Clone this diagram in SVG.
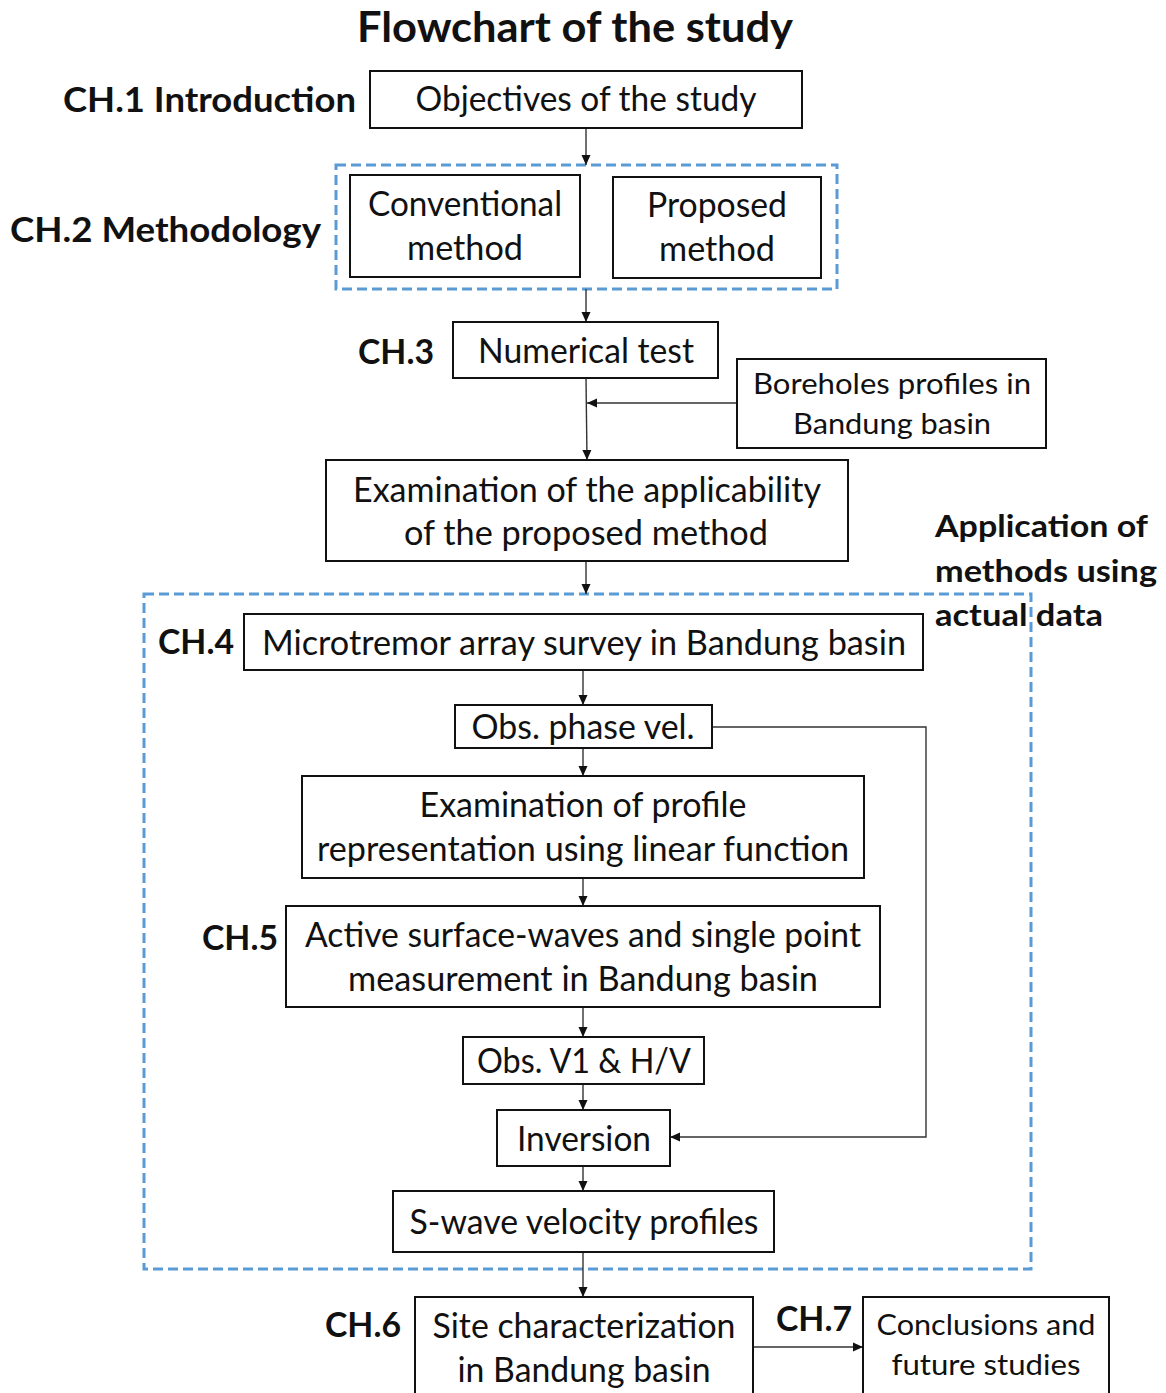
<svg xmlns="http://www.w3.org/2000/svg" width="1166" height="1393" viewBox="0 0 1166 1393">
<defs>
<marker id="ah" markerUnits="userSpaceOnUse" markerWidth="10" markerHeight="10" viewBox="0 0 10 10" refX="10" refY="5" orient="auto">
<path d="M0,0.5 L10,5 L0,9.5 Z" fill="#111"/>
</marker>
<style>
.box{fill:#fff;stroke:#111;stroke-width:2}
.dash{fill:none;stroke:#5B9BD5;stroke-width:3;stroke-dasharray:10 5}
.t{font-family:Lato,"Open Sans","Liberation Sans",sans-serif;font-size:34px;fill:#111;text-anchor:middle}
.s{font-size:28px}
.b{font-family:Lato,"Open Sans","Liberation Sans",sans-serif;font-weight:bold;font-size:34px;fill:#111}
.c{fill:none;stroke:#333;stroke-width:1.4}
</style>
</defs>
<rect width="1166" height="1393" fill="#fff"/>
<text class="b" x="575" y="42" text-anchor="middle" font-size="42" style="font-size:42px" textLength="436" lengthAdjust="spacingAndGlyphs">Flowchart of the study</text>

<g id="frames">
<rect class="dash" x="336" y="165" width="501" height="124"/>
<rect class="dash" x="144" y="594" width="887" height="675"/>
</g>

<g id="labels">
<text class="b" x="63" y="112" textLength="293" lengthAdjust="spacingAndGlyphs">CH.1 Introduction</text>
<text class="b" x="10" y="242" textLength="311" lengthAdjust="spacingAndGlyphs">CH.2 Methodology</text>
<text class="b" x="358" y="364" textLength="76" lengthAdjust="spacingAndGlyphs">CH.3</text>
<text class="b" x="158" y="654" textLength="76" lengthAdjust="spacingAndGlyphs">CH.4</text>
<text class="b" x="202" y="950" textLength="76" lengthAdjust="spacingAndGlyphs">CH.5</text>
<text class="b" x="325" y="1337" textLength="76" lengthAdjust="spacingAndGlyphs">CH.6</text>
<text class="b" x="776" y="1331" textLength="76" lengthAdjust="spacingAndGlyphs">CH.7</text>
<g id="app-label">
<text class="b" x="935" y="537" style="font-size:30px" textLength="213" lengthAdjust="spacingAndGlyphs">Application of</text>
<text class="b" x="935" y="582" style="font-size:30px" textLength="222" lengthAdjust="spacingAndGlyphs">methods using</text>
<text class="b" x="935" y="626" style="font-size:30px" textLength="168" lengthAdjust="spacingAndGlyphs">actual data</text>
</g>
</g>

<g id="connectors">
<line class="c" x1="586" y1="128" x2="586" y2="165" marker-end="url(#ah)"/>
<line class="c" x1="586" y1="289" x2="586" y2="322" marker-end="url(#ah)"/>
<line class="c" x1="586" y1="378" x2="587" y2="460" marker-end="url(#ah)"/>
<line class="c" x1="737" y1="403" x2="587" y2="403" marker-end="url(#ah)"/>
<line class="c" x1="586" y1="561" x2="586" y2="594" marker-end="url(#ah)"/>
<line class="c" x1="583" y1="670" x2="583" y2="705" marker-end="url(#ah)"/>
<line class="c" x1="583" y1="748" x2="583" y2="776" marker-end="url(#ah)"/>
<line class="c" x1="583" y1="878" x2="583" y2="906" marker-end="url(#ah)"/>
<line class="c" x1="583" y1="1007" x2="583" y2="1037" marker-end="url(#ah)"/>
<line class="c" x1="583" y1="1084" x2="583" y2="1110" marker-end="url(#ah)"/>
<line class="c" x1="583" y1="1166" x2="583" y2="1191" marker-end="url(#ah)"/>
<line class="c" x1="583" y1="1252" x2="583" y2="1297" marker-end="url(#ah)"/>
<polyline class="c" points="712,727 926,727 926,1137 670,1137" marker-end="url(#ah)"/>
<line class="c" x1="753" y1="1347" x2="863" y2="1347" marker-end="url(#ah)"/>
</g>

<g id="n-objectives">
<rect class="box" x="370" y="71" width="432" height="57"/>
<text class="t" x="586" y="111" textLength="341" lengthAdjust="spacingAndGlyphs">Objectives of the study</text>
</g>
<g id="n-conventional">
<rect class="box" x="350" y="175" width="230" height="102"/>
<text class="t" x="465" y="216" textLength="194" lengthAdjust="spacingAndGlyphs">Conventional</text>
<text class="t" x="465" y="260" textLength="116" lengthAdjust="spacingAndGlyphs">method</text>
</g>
<g id="n-proposed">
<rect class="box" x="613" y="177" width="208" height="101"/>
<text class="t" x="717" y="217" textLength="140" lengthAdjust="spacingAndGlyphs">Proposed</text>
<text class="t" x="717" y="261" textLength="116" lengthAdjust="spacingAndGlyphs">method</text>
</g>
<g id="n-numerical">
<rect class="box" x="453" y="322" width="265" height="56"/>
<text class="t" x="586" y="363" textLength="216" lengthAdjust="spacingAndGlyphs">Numerical test</text>
</g>
<g id="n-boreholes">
<rect class="box" x="737" y="359" width="309" height="89"/>
<text class="t s" x="892" y="394" textLength="278" lengthAdjust="spacingAndGlyphs">Boreholes profiles in</text>
<text class="t s" x="892" y="434" textLength="198" lengthAdjust="spacingAndGlyphs">Bandung basin</text>
</g>
<g id="n-examination">
<rect class="box" x="326" y="460" width="522" height="101"/>
<text class="t" x="587" y="502" textLength="468" lengthAdjust="spacingAndGlyphs">Examination of the applicability</text>
<text class="t" x="586" y="545" textLength="364" lengthAdjust="spacingAndGlyphs">of the proposed method</text>
</g>
<g id="n-microtremor">
<rect class="box" x="244" y="614" width="679" height="56"/>
<text class="t" x="584" y="655" textLength="644" lengthAdjust="spacingAndGlyphs">Microtremor array survey in Bandung basin</text>
</g>
<g id="n-obsphase">
<rect class="box" x="455" y="705" width="257" height="43"/>
<text class="t" x="583" y="739" textLength="223" lengthAdjust="spacingAndGlyphs">Obs. phase vel.</text>
</g>
<g id="n-profile">
<rect class="box" x="302" y="776" width="562" height="102"/>
<text class="t" x="583" y="817" textLength="327" lengthAdjust="spacingAndGlyphs">Examination of profile</text>
<text class="t" x="583" y="861" textLength="532" lengthAdjust="spacingAndGlyphs">representation using linear function</text>
</g>
<g id="n-active">
<rect class="box" x="286" y="906" width="594" height="101"/>
<text class="t" x="583" y="947" textLength="556" lengthAdjust="spacingAndGlyphs">Active surface-waves and single point</text>
<text class="t" x="583" y="991" textLength="470" lengthAdjust="spacingAndGlyphs">measurement in Bandung basin</text>
</g>
<g id="n-obsv1">
<rect class="box" x="463" y="1037" width="241" height="47"/>
<text class="t" x="584" y="1073" textLength="214" lengthAdjust="spacingAndGlyphs">Obs. V1 &amp; H/V</text>
</g>
<g id="n-inversion">
<rect class="box" x="497" y="1110" width="173" height="56"/>
<text class="t" x="584" y="1151" textLength="134" lengthAdjust="spacingAndGlyphs">Inversion</text>
</g>
<g id="n-swave">
<rect class="box" x="393" y="1191" width="381" height="61"/>
<text class="t" x="584" y="1234" textLength="349" lengthAdjust="spacingAndGlyphs">S-wave velocity profiles</text>
</g>
<g id="n-site">
<rect class="box" x="415" y="1297" width="338" height="110"/>
<text class="t" x="584" y="1338" textLength="303" lengthAdjust="spacingAndGlyphs">Site characterization</text>
<text class="t" x="584" y="1382" textLength="253" lengthAdjust="spacingAndGlyphs">in Bandung basin</text>
</g>
<g id="n-conclusions">
<rect class="box" x="863" y="1297" width="246" height="110"/>
<text class="t s" x="986" y="1335" textLength="219" lengthAdjust="spacingAndGlyphs">Conclusions and</text>
<text class="t s" x="986" y="1375" textLength="189" lengthAdjust="spacingAndGlyphs">future studies</text>
</g>
</svg>
